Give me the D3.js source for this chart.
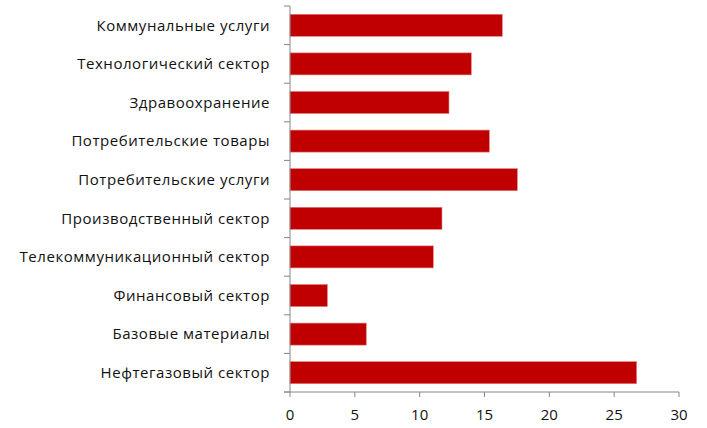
<!DOCTYPE html>
<html>
<head>
<meta charset="utf-8">
<script src="https://cdn.jsdelivr.net/npm/d3@7"></script>
<style>
  body { margin: 0; background: #fff; }
  text { font-family: "Open Sans", "Noto Sans", sans-serif; fill: #111; }
</style>
</head>
<body>
<svg id="chart"></svg>
<script>
let categories = ['Коммунальные услуги', 'Технологический сектор', 'Здравоохранение', 'Потребительские товары',
    'Потребительские услуги', 'Производственный сектор', 'Телекоммуникационный сектор',
    'Финансовый сектор', 'Базовые материалы', 'Нефтегазовый сектор']
let values = [16.37, 13.98, 12.26, 15.37, 17.53, 11.72, 11.05, 2.88, 5.88, 26.73]
let xTicks = [0, 5, 10, 15, 20, 25, 30]

let width = 707, height = 428
let mLeft = 290, mRight = 679, mTop = 6, mBottom = 392

let svg = d3.select('#chart')
    .attr('width', width)
    .attr('height', height)

let x = d3.scaleLinear().domain([0, 30]).range([mLeft, mRight])
let y = d3.scaleBand().domain(categories).range([mTop, mBottom]).paddingInner(0.43).paddingOuter(0.215)

let data = categories.map((c, i) => ({cat: c, val: values[i]}))

svg.append('g')
    .selectAll('rect')
    .data(data)
    .enter().append('rect')
    .attr('x', x(0))
    .attr('y', d => y(d.cat))
    .attr('width', d => x(d.val) - x(0))
    .attr('height', y.bandwidth())
    .attr('fill', '#c00000')
    .attr('stroke', '#e07a7a')
    .attr('stroke-width', 0.6)

// x axis
let axisX = svg.append('g').attr('transform', `translate(0, ${mBottom})`)
axisX.append('line').attr('x1', mLeft - 6).attr('x2', mRight).attr('stroke', '#868686')
axisX.selectAll('.tick')
    .data(xTicks)
    .enter().append('line')
    .attr('x1', d => x(d)).attr('x2', d => x(d))
    .attr('y1', 0).attr('y2', 5)
    .attr('stroke', '#868686')
axisX.selectAll('text')
    .data(xTicks)
    .enter().append('text')
    .attr('x', d => x(d))
    .attr('y', 28)
    .attr('text-anchor', 'middle')
    .style('font-size', '15px')
    .text(d => d)

// y axis
let axisY = svg.append('g')
axisY.append('line').attr('x1', mLeft).attr('x2', mLeft).attr('y1', mTop).attr('y2', mBottom).attr('stroke', '#868686')
axisY.selectAll('.ytick')
    .data(d3.range(categories.length + 1))
    .enter().append('line')
    .attr('x1', mLeft - 6).attr('x2', mLeft)
    .attr('y1', i => mTop + i * (mBottom - mTop) / categories.length)
    .attr('y2', i => mTop + i * (mBottom - mTop) / categories.length)
    .attr('stroke', '#868686')
axisY.selectAll('text')
    .data(categories)
    .enter().append('text')
    .attr('x', 270)
    .attr('y', d => y(d) + y.bandwidth() / 2)
    .attr('dy', '0.35em')
    .attr('text-anchor', 'end')
    .style('font-size', '15px')
    .style('letter-spacing', '0.55px')
    .text(d => d)
</script>
</body>
</html>
